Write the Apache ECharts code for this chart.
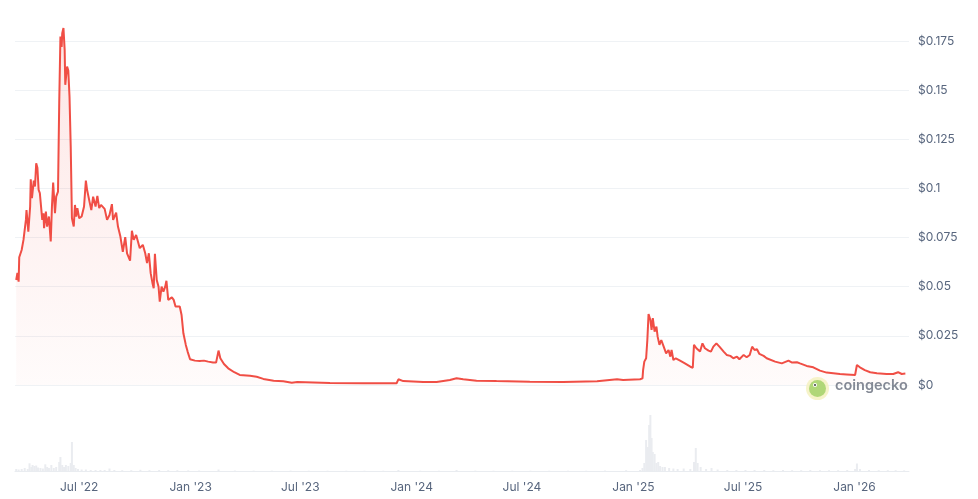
<!DOCTYPE html>
<html>
<head>
<meta charset="utf-8">
<script src="https://cdn.jsdelivr.net/npm/echarts@6/dist/echarts.min.js"></script>
<style>
  html, body { margin: 0; padding: 0; background: #ffffff; }
  #chart { width: 978px; height: 499px; }
</style>
</head>
<body>
<div id="chart"></div>
<script>
// ---- Price series (USD) ----
var priceDates = [
  '2022-03-19','2022-03-21','2022-03-23','2022-03-24','2022-03-28','2022-03-31','2022-04-04','2022-04-05','2022-04-08','2022-04-11',
  '2022-04-12','2022-04-14','2022-04-17','2022-04-19','2022-04-21','2022-04-23','2022-04-25','2022-04-27','2022-05-01','2022-05-03',
  '2022-05-04','2022-05-07','2022-05-09','2022-05-12','2022-05-15','2022-05-17','2022-05-19','2022-05-22','2022-05-24','2022-05-27',
  '2022-05-29','2022-05-31','2022-06-02','2022-06-03','2022-06-05','2022-06-07','2022-06-08','2022-06-11','2022-06-13','2022-06-15',
  '2022-06-17','2022-06-19','2022-06-22','2022-06-24','2022-06-26','2022-06-28','2022-07-01','2022-07-05','2022-07-09','2022-07-12',
  '2022-07-14','2022-07-18','2022-07-21','2022-07-24','2022-07-28','2022-07-31','2022-08-03','2022-08-06','2022-08-12','2022-08-16',
  '2022-08-20','2022-08-24','2022-08-26','2022-08-31','2022-09-03','2022-09-07','2022-09-11','2022-09-15','2022-09-18','2022-09-23',
  '2022-09-26','2022-09-29','2022-10-03','2022-10-06','2022-10-09','2022-10-14','2022-10-18','2022-10-21','2022-10-24','2022-10-27',
  '2022-10-30','2022-11-01','2022-11-03','2022-11-06','2022-11-09','2022-11-11','2022-11-14','2022-11-17','2022-11-20','2022-11-22',
  '2022-11-25','2022-11-28','2022-12-01','2022-12-04','2022-12-07','2022-12-10','2022-12-14','2022-12-17','2022-12-20','2022-12-24',
  '2022-12-27','2022-12-31','2023-01-08','2023-01-16','2023-01-23','2023-01-30','2023-02-07','2023-02-12','2023-02-16','2023-02-19',
  '2023-02-25','2023-03-04','2023-03-14','2023-03-23','2023-04-09','2023-04-20','2023-05-01','2023-05-18','2023-06-03','2023-06-17',
  '2023-06-26','2023-08-19','2023-10-13','2023-12-07','2023-12-10','2023-12-18','2024-01-20','2024-02-11','2024-03-04','2024-03-15',
  '2024-03-26','2024-04-17','2024-05-20','2024-07-14','2024-09-07','2024-11-02','2024-12-05','2024-12-15','2025-01-12','2025-01-16',
  '2025-01-17','2025-01-19','2025-01-22','2025-01-24','2025-01-26','2025-01-29','2025-01-31','2025-02-02','2025-02-05','2025-02-08',
  '2025-02-10','2025-02-13','2025-02-16','2025-02-20','2025-02-24','2025-02-28','2025-03-03','2025-03-05','2025-03-08','2025-03-12',
  '2025-03-19','2025-03-27','2025-04-05','2025-04-09','2025-04-11','2025-04-15','2025-04-18','2025-04-21','2025-04-25','2025-04-29',
  '2025-05-05','2025-05-09','2025-05-13','2025-05-18','2025-05-23','2025-05-30','2025-06-04','2025-06-10','2025-06-15','2025-06-21',
  '2025-06-25','2025-07-02','2025-07-07','2025-07-12','2025-07-16','2025-07-20','2025-07-24','2025-07-28','2025-08-04','2025-08-09',
  '2025-08-12','2025-08-23','2025-09-03','2025-09-14','2025-09-20','2025-09-28','2025-10-03','2025-10-14','2025-10-25','2025-11-05',
  '2025-11-16','2025-11-27','2025-12-08','2025-12-19','2026-01-02','2026-01-05','2026-01-10','2026-01-18','2026-01-27','2026-02-07',
  '2026-02-23','2026-03-06','2026-03-14','2026-03-20','2026-03-26'
];
var priceValues = [
  0.0534,0.057,0.0526,0.065,0.0687,0.0738,0.084,0.089,0.078,0.0908,
  0.1047,0.095,0.104,0.101,0.1128,0.1105,0.0993,0.0976,0.084,0.0874,
  0.0798,0.0882,0.0806,0.0857,0.073,0.0908,0.103,0.0874,0.0958,0.0984,
  0.1434,0.1773,0.172,0.179,0.1816,0.1705,0.1527,0.162,0.160,0.1467,
  0.1213,0.0848,0.0806,0.0916,0.0857,0.090,0.0848,0.0857,0.0908,0.104,
  0.0993,0.0933,0.089,0.0958,0.0908,0.0962,0.090,0.0916,0.0896,0.084,
  0.0865,0.092,0.084,0.0877,0.0806,0.0755,0.0678,0.0752,0.067,0.0633,
  0.0785,0.0738,0.0763,0.0768,0.0696,0.0713,0.067,0.062,0.067,0.0569,
  0.0518,0.0492,0.0667,0.0534,0.050,0.0424,0.050,0.0475,0.050,0.053,
  0.0433,0.0424,0.0446,0.0433,0.0399,0.039,0.0399,0.0356,0.0263,0.0204,
  0.017,0.0131,0.0124,0.0122,0.0124,0.0119,0.0114,0.0114,0.0175,0.0136,
  0.0107,0.0085,0.0065,0.0051,0.0047,0.0042,0.0031,0.0022,0.0019,0.0012,
  0.0015,0.0010,0.0009,0.0009,0.0029,0.0020,0.0015,0.0015,0.0025,0.0034,
  0.0029,0.0022,0.0020,0.0017,0.0015,0.0019,0.0029,0.0025,0.0029,0.0034,
  0.0076,0.0119,0.0136,0.0229,0.0361,0.0331,0.028,0.034,0.0271,0.0297,
  0.0246,0.0204,0.0229,0.0195,0.0161,0.0178,0.0144,0.0178,0.0127,0.0136,
  0.0124,0.011,0.0093,0.0088,0.0204,0.0187,0.0195,0.017,0.0212,0.0187,
  0.0175,0.017,0.0195,0.0212,0.0195,0.017,0.0153,0.0148,0.0136,0.0144,
  0.0131,0.0153,0.0141,0.0153,0.0195,0.0178,0.0182,0.0158,0.0148,0.0136,
  0.0141,0.0119,0.011,0.0124,0.0114,0.0116,0.011,0.0097,0.009,0.0073,
  0.0063,0.006,0.0056,0.0054,0.0051,0.0102,0.009,0.0076,0.0065,0.006,
  0.0056,0.0056,0.0065,0.0056,0.0058
];

// ---- Volume series (relative units) ----
var volumeDates = [
  '2022-03-19','2022-03-23','2022-03-28','2022-04-02','2022-04-07','2022-04-10','2022-04-13','2022-04-15','2022-04-18','2022-04-21',
  '2022-04-24','2022-04-28','2022-05-02','2022-05-06','2022-05-09','2022-05-12','2022-05-16','2022-05-20','2022-05-24','2022-05-29',
  '2022-05-31','2022-06-03','2022-06-06','2022-06-09','2022-06-13','2022-06-17','2022-06-19','2022-06-22','2022-06-25','2022-06-29',
  '2022-07-05','2022-07-12','2022-07-20','2022-07-28','2022-08-05','2022-08-12','2022-08-20','2022-08-28','2022-09-10','2022-09-25',
  '2022-10-10','2022-10-25','2022-11-10','2022-11-25','2022-12-10','2022-12-28','2023-01-15','2023-02-16','2023-03-15','2023-04-15',
  '2023-05-15','2023-06-15','2023-07-15','2023-08-15','2023-09-15','2023-10-15','2023-11-15','2023-12-10','2024-01-15','2024-02-15',
  '2024-03-15','2024-04-15','2024-05-15','2024-06-15','2024-07-15','2024-08-15','2024-09-15','2024-10-15','2024-11-15','2024-12-20',
  '2025-01-12','2025-01-16','2025-01-19','2025-01-22','2025-01-25','2025-01-27','2025-01-29','2025-01-31','2025-02-02','2025-02-05',
  '2025-02-08','2025-02-11','2025-02-14','2025-02-18','2025-02-22','2025-03-01','2025-03-08','2025-03-15','2025-03-25','2025-04-05',
  '2025-04-11','2025-04-14','2025-04-17','2025-04-22','2025-05-01','2025-05-10','2025-05-20','2025-06-05','2025-06-20','2025-07-05',
  '2025-07-20','2025-08-05','2025-08-20','2025-09-05','2025-09-20','2025-10-05','2025-10-20','2025-11-05','2025-11-20','2025-12-05',
  '2025-12-20','2026-01-02','2026-01-05','2026-01-10','2026-01-25','2026-02-10','2026-02-25','2026-03-10','2026-03-24'
];
var volumeValues = [
  2,1.5,2,3,2,7.7,4,6,5,5.5,
  3.5,3,2.5,6.7,4,3,6,3,4,9,
  14,6,4,6,5,8,29,6,3,2,
  1.5,1.5,1,1,1,1,2.5,1,0.8,0.8,
  1.2,0.8,1,0.8,0.8,0.6,0.5,1.5,0.5,0.4,
  0.4,0.4,0.3,0.3,0.3,0.3,0.3,1,0.3,0.3,
  1,0.4,0.3,0.3,0.3,0.3,0.3,0.3,0.5,0.8,
  1,3,8,31,24,46,56,33,19,17,
  8,9,5,4,4,3,2.5,2,2.5,2,
  9,23,8,4,2,3,1.5,1,1,1,
  1,1,0.8,1,0.8,0.8,1,0.8,0.8,0.8,
  1,2,7.5,2,1,0.8,0.8,0.8,0.6
];

// ---- Axis ticks ----
var xTickDates = ['2022-07-01','2023-01-01','2023-07-01','2024-01-01','2024-07-01','2025-01-01','2025-07-01','2026-01-01'];
var xRange = ['2022-03-17','2026-04-01'];
var yMin = 0, yMax = 0.175, yStep = 0.025;
var volMax = 86;

function ts(s) { var p = s.split('-'); return Date.UTC(+p[0], +p[1] - 1, +p[2]); }
var MONTHS = ['Jan','Feb','Mar','Apr','May','Jun','Jul','Aug','Sep','Oct','Nov','Dec'];

var priceData = priceDates.map(function (d, i) { return [ts(d), priceValues[i]]; });
var volumeData = volumeDates.map(function (d, i) { return [ts(d), volumeValues[i]]; });

var labelColor = '#58667e';
var fontFamily = 'Inter, "Noto Sans", sans-serif';

var chart = echarts.init(document.getElementById('chart'), null, { renderer: 'canvas' });
chart.setOption({
  animation: false,
  backgroundColor: '#ffffff',
  grid: [
    { left: 15, right: 69, top: 41, bottom: 114, containLabel: false },
    { left: 15, right: 69, top: 385, bottom: 28, containLabel: false }
  ],
  xAxis: [
    {
      type: 'value', gridIndex: 0, min: ts(xRange[0]), max: ts(xRange[1]), scale: true,
      axisLine: { show: false }, axisTick: { show: false }, axisLabel: { show: false }, splitLine: { show: false }
    },
    {
      type: 'value', gridIndex: 1, min: ts(xRange[0]), max: ts(xRange[1]), scale: true,
      axisLine: { show: true, onZero: false, lineStyle: { color: '#e9ecf0', width: 1 } },
      axisTick: { show: false },
      splitLine: { show: false },
      axisLabel: {
        show: true,
        customValues: xTickDates.map(ts),
        color: labelColor, fontSize: 12, fontFamily: fontFamily, margin: 10,
        hideOverlap: false,
        formatter: function (v) {
          var d = new Date(v);
          return MONTHS[d.getUTCMonth()] + " '" + String(d.getUTCFullYear()).slice(2);
        }
      }
    }
  ],
  yAxis: [
    {
      type: 'value', gridIndex: 0, position: 'right', min: yMin, max: yMax, interval: yStep,
      axisLine: { show: false }, axisTick: { show: false },
      splitLine: { show: true, lineStyle: { color: '#eff2f5', width: 1 } },
      axisLabel: {
        color: labelColor, fontSize: 12, fontFamily: fontFamily, margin: 9,
        formatter: function (v) { return '$' + (+v.toFixed(3)); }
      }
    },
    {
      type: 'value', gridIndex: 1, min: 0, max: volMax, show: false,
      splitLine: { show: false }
    }
  ],
  graphic: [
    { type: 'circle', left: 806, top: 377, shape: { r: 11.5 }, style: { fill: '#f4f1c0', opacity: 0.85 }, z: 10 },
    { type: 'circle', left: 809, top: 380, shape: { r: 8.5 }, style: { fill: '#a9d46f', opacity: 0.9 }, z: 11 },
    { type: 'circle', left: 813, top: 383, shape: { r: 2 }, style: { fill: '#ffffff' }, z: 12 },
    { type: 'circle', left: 814, top: 384, shape: { r: 1 }, style: { fill: '#3d3d3d' }, z: 13 },
    {
      type: 'text', left: 835, top: 378, z: 12,
      style: { text: 'coingecko', fill: '#7d838f', font: '600 14.5px ' + fontFamily, opacity: 0.95 }
    }
  ],
  series: [
    {
      name: 'Price', type: 'line', xAxisIndex: 0, yAxisIndex: 0,
      data: priceData, showSymbol: false, clip: false, smooth: false,
      lineStyle: { color: '#f04e45', width: 2 },
      areaStyle: {
        color: new echarts.graphic.LinearGradient(0, 0, 0, 1, [
          { offset: 0, color: 'rgba(240,78,69,0.20)' },
          { offset: 1, color: 'rgba(240,78,69,0.03)' }
        ])
      },
      z: 3
    },
    {
      name: 'Volume', type: 'bar', xAxisIndex: 1, yAxisIndex: 1,
      data: volumeData, barWidth: 2,
      itemStyle: { color: '#eaecf0' },
      z: 2
    }
  ]
});
</script>
</body>
</html>
